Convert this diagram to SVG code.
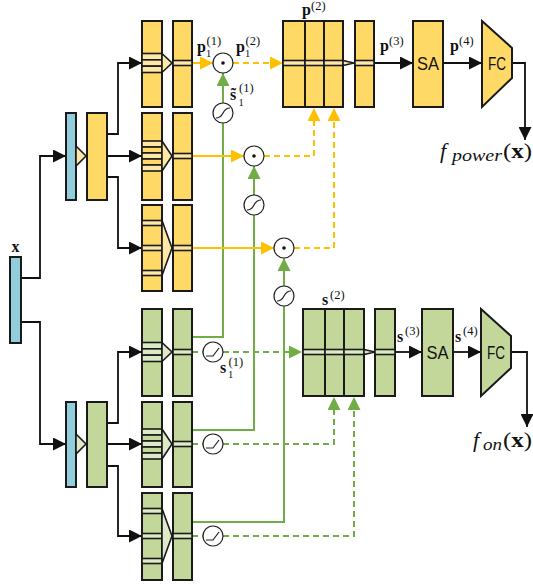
<svg xmlns="http://www.w3.org/2000/svg" width="533" height="584" viewBox="0 0 533 584">
<defs>
<style>
.y{fill:#FFD966;stroke:#1a1a1a;stroke-width:2}
.g{fill:#C4D79B;stroke:#1a1a1a;stroke-width:2}
.b{fill:#92CDDC;stroke:#1a1a1a;stroke-width:2}
.ys{fill:#FDE8A8;stroke:#1a1a1a;stroke-width:1.6}
.gs{fill:#DDEAC8;stroke:#1a1a1a;stroke-width:1.6}
.yk{fill:#FFD966;stroke:#1a1a1a;stroke-width:1.6}
.gk{fill:#C4D79B;stroke:#1a1a1a;stroke-width:1.6}
.k{fill:none;stroke:#111;stroke-width:1.8}
.oy{fill:none;stroke:#FFC000;stroke-width:2}
.oyd{fill:none;stroke:#FFC000;stroke-width:2;stroke-dasharray:6 4}
.gr{fill:none;stroke:#70AD47;stroke-width:2}
.grd{fill:none;stroke:#70AD47;stroke-width:2;stroke-dasharray:6 4}
.op{fill:#fff;stroke:#222;stroke-width:1.2}
.sym{fill:none;stroke:#222;stroke-width:1.2}
.m{font-family:"Liberation Serif",serif;fill:#111}
.mb{font-family:"Liberation Serif",serif;font-weight:bold;fill:#111;font-size:16px}
.sup{font-family:"Liberation Serif",serif;fill:#111;font-size:12.5px}
.sub{font-family:"Liberation Serif",serif;fill:#111;font-size:10.5px}
.sf{font-family:"Liberation Sans",sans-serif;font-size:18px;fill:#111;text-anchor:middle}
</style>
<marker id="ak" viewBox="0 0 10 10" refX="10" refY="5" markerWidth="13" markerHeight="13" markerUnits="userSpaceOnUse" orient="auto"><path d="M0,0 L10,5 L0,10 z" fill="#111"/></marker>
<marker id="ay" viewBox="0 0 10 10" refX="10" refY="5" markerWidth="13" markerHeight="13" markerUnits="userSpaceOnUse" orient="auto"><path d="M0,0 L10,5 L0,10 z" fill="#FFC000"/></marker>
<marker id="ag" viewBox="0 0 10 10" refX="10" refY="5" markerWidth="13" markerHeight="13" markerUnits="userSpaceOnUse" orient="auto"><path d="M0,0 L10,5 L0,10 z" fill="#70AD47"/></marker>
</defs>
<rect width="533" height="584" fill="#fff"/>

<g id="connectors">
<path class="k" d="M21,278 H40 V156 H66" marker-end="url(#ak)"/>
<path class="k" d="M21,322 H40 V444 H66" marker-end="url(#ak)"/>
<path class="k" d="M107,134 H118 V63 H142" marker-end="url(#ak)"/>
<path class="k" d="M107,156 H142" marker-end="url(#ak)"/>
<path class="k" d="M107,177 H118 V248 H142" marker-end="url(#ak)"/>
<path class="k" d="M107,423 H118 V352 H142" marker-end="url(#ak)"/>
<path class="k" d="M107,444 H142" marker-end="url(#ak)"/>
<path class="k" d="M107,466 H118 V536 H142" marker-end="url(#ak)"/>
<path class="k" d="M374,63 H413" marker-end="url(#ak)"/>
<path class="k" d="M443,63 H482" marker-end="url(#ak)"/>
<path class="k" d="M512,63 H525 V140" marker-end="url(#ak)"/>
<path class="k" d="M395,352 H422" marker-end="url(#ak)"/>
<path class="k" d="M453,352 H481" marker-end="url(#ak)"/>
<path class="k" d="M511,352 H527 V427" marker-end="url(#ak)"/>
<path class="gr" d="M192,337 H223 V123"/>
<path class="gr" d="M223,103 V73" marker-end="url(#ag)"/>
<path class="gr" d="M192,430 H254 V215"/>
<path class="gr" d="M254,195 V166" marker-end="url(#ag)"/>
<path class="gr" d="M192,522 H284 V306"/>
<path class="gr" d="M284,286 V258" marker-end="url(#ag)"/>
<path class="oy" d="M192,63 H213" marker-end="url(#ay)"/>
<path class="oy" d="M192,156 H244" marker-end="url(#ay)"/>
<path class="oy" d="M192,248 H274" marker-end="url(#ay)"/>
<path class="oyd" d="M233,63 H283" marker-end="url(#ay)"/>
<path class="oyd" d="M264,156 H314 V108" marker-end="url(#ay)"/>
<path class="oyd" d="M294,248 H334 V108" marker-end="url(#ay)"/>
<path class="grd" d="M192,352 H203"/>
<path class="grd" d="M223,352 H302" marker-end="url(#ag)"/>
<path class="grd" d="M192,444 H203"/>
<path class="grd" d="M223,444 H334 V397" marker-end="url(#ag)"/>
<path class="grd" d="M192,536 H203"/>
<path class="grd" d="M223,536 H354 V397" marker-end="url(#ag)"/>
</g>

<g id="input">
<rect class="b" x="10" y="257" width="11" height="86"/>
<text class="mb" x="15.5" y="252" text-anchor="middle" font-size="18">x</text>
</g>

<g id="power-stem">
<rect class="b" x="66" y="113" width="10" height="87"/>
<polygon class="ys" points="76,146 86,156 76,166"/>
<rect class="y" x="87" y="113" width="20" height="87"/>
</g>

<g id="power-block1">
<rect class="y" x="142" y="21" width="20" height="86"/>
<rect class="ys" x="142" y="53.5" width="20" height="6.33"/>
<rect class="ys" x="142" y="59.83" width="20" height="6.33"/>
<rect class="ys" x="142" y="66.17" width="20" height="6.33"/>
<polygon class="ys" points="162,53.5 172,63 162,72.5"/>
<rect class="y" x="173" y="21" width="19" height="86"/>
<rect class="ys" x="173" y="60.5" width="19" height="5"/>
</g>

<g id="power-block2">
<rect class="y" x="142" y="113" width="20" height="87"/>
<rect class="ys" x="142" y="141" width="20" height="6"/>
<rect class="yk" x="142" y="147" width="20" height="6"/>
<rect class="ys" x="142" y="153" width="20" height="6"/>
<rect class="yk" x="142" y="159" width="20" height="6"/>
<rect class="ys" x="142" y="165" width="20" height="6"/>
<polygon class="ys" points="162,141 172,156 162,171"/>
<rect class="y" x="173" y="113" width="19" height="87"/>
<rect class="ys" x="173" y="153.5" width="19" height="5"/>
</g>

<g id="power-block3">
<rect class="y" x="142" y="205" width="20" height="86"/>
<rect class="ys" x="142" y="220.5" width="20" height="5"/>
<rect class="ys" x="142" y="245.5" width="20" height="5"/>
<rect class="ys" x="142" y="270.5" width="20" height="5"/>
<polygon class="ys" points="162,220.5 172,248 162,275.5"/>
<rect class="y" x="173" y="205" width="19" height="86"/>
<rect class="ys" x="173" y="245.5" width="19" height="5"/>
</g>

<g id="power-ops">
<circle class="op" cx="223" cy="63" r="10"/><circle cx="223" cy="63" r="1.8" fill="#111"/>
<circle class="op" cx="254" cy="156" r="10"/><circle cx="254" cy="156" r="1.8" fill="#111"/>
<circle class="op" cx="284" cy="248" r="10"/><circle cx="284" cy="248" r="1.8" fill="#111"/>
<circle class="op" cx="223" cy="113" r="10"/><path class="sym" d="M216,118 C225,118 221,108 230,108"/>
<circle class="op" cx="254" cy="205" r="10"/><path class="sym" d="M247,210 C256,210 252,200 261,200"/>
<circle class="op" cx="284" cy="296" r="10"/><path class="sym" d="M277,301 C286,301 282,291 291,291"/>
</g>

<g id="power-merge">
<rect class="y" x="283" y="21" width="22" height="86"/>
<rect class="y" x="305" y="21" width="19" height="86"/>
<rect class="y" x="324" y="21" width="19" height="86"/>
<rect class="ys" x="283" y="60.5" width="22" height="5"/>
<rect class="ys" x="305" y="60.5" width="19" height="5"/>
<rect class="ys" x="324" y="60.5" width="19" height="5"/>
<polygon class="ys" points="343,60.5 354,63 343,65.5"/>
<rect class="y" x="355" y="21" width="19" height="86"/>
<rect class="ys" x="355" y="60.5" width="19" height="5"/>
</g>

<g id="power-sa">
<rect class="y" x="413" y="21" width="30" height="86"/>
<text class="sf" x="428" y="69.5" textLength="22" lengthAdjust="spacingAndGlyphs">SA</text>
</g>

<g id="power-fc">
<polygon class="y" points="482,21 512,48 512,78 482,107"/>
<text class="sf" x="497" y="69.5" textLength="18" lengthAdjust="spacingAndGlyphs">FC</text>
</g>

<g id="on-stem">
<rect class="b" x="66" y="402" width="10" height="85"/>
<polygon class="gs" points="76,434 86,444 76,454"/>
<rect class="g" x="87" y="402" width="20" height="85"/>
</g>

<g id="on-block1">
<rect class="g" x="142" y="309" width="20" height="87"/>
<rect class="gs" x="142" y="342.5" width="20" height="6.33"/>
<rect class="gs" x="142" y="348.83" width="20" height="6.33"/>
<rect class="gs" x="142" y="355.17" width="20" height="6.33"/>
<polygon class="gs" points="162,342.5 172,352 162,361.5"/>
<rect class="g" x="173" y="309" width="19" height="87"/>
<rect class="gs" x="173" y="349.5" width="19" height="5"/>
</g>

<g id="on-block2">
<rect class="g" x="142" y="402" width="20" height="85"/>
<rect class="gs" x="142" y="429" width="20" height="6"/>
<rect class="gk" x="142" y="435" width="20" height="6"/>
<rect class="gs" x="142" y="441" width="20" height="6"/>
<rect class="gk" x="142" y="447" width="20" height="6"/>
<rect class="gs" x="142" y="453" width="20" height="6"/>
<polygon class="gs" points="162,429 172,444 162,459"/>
<rect class="g" x="173" y="402" width="19" height="85"/>
<rect class="gs" x="173" y="441.5" width="19" height="5"/>
</g>

<g id="on-block3">
<rect class="g" x="142" y="493" width="20" height="87"/>
<rect class="gs" x="142" y="508.5" width="20" height="5"/>
<rect class="gs" x="142" y="533.5" width="20" height="5"/>
<rect class="gs" x="142" y="558.5" width="20" height="5"/>
<polygon class="gs" points="162,508.5 172,536 162,563.5"/>
<rect class="g" x="173" y="493" width="19" height="87"/>
<rect class="gs" x="173" y="533.5" width="19" height="5"/>
</g>

<g id="on-ops">
<circle class="op" cx="213" cy="352" r="10"/><path class="sym" d="M206,356 H213 L219,348"/>
<circle class="op" cx="213" cy="444" r="10"/><path class="sym" d="M206,448 H213 L219,440"/>
<circle class="op" cx="213" cy="536" r="10"/><path class="sym" d="M206,540 H213 L219,532"/>
</g>

<g id="on-merge">
<rect class="g" x="303" y="309" width="22" height="87"/>
<rect class="g" x="325" y="309" width="19" height="87"/>
<rect class="g" x="344" y="309" width="20" height="87"/>
<rect class="gs" x="303" y="349.5" width="22" height="5"/>
<rect class="gs" x="325" y="349.5" width="19" height="5"/>
<rect class="gs" x="344" y="349.5" width="20" height="5"/>
<polygon class="gs" points="364,349.5 375,352 364,354.5"/>
<rect class="g" x="375" y="309" width="20" height="87"/>
<rect class="gs" x="375" y="349.5" width="20" height="5"/>
</g>

<g id="on-sa">
<rect class="g" x="422" y="309" width="31" height="87"/>
<text class="sf" x="437.5" y="358.5" textLength="22" lengthAdjust="spacingAndGlyphs">SA</text>
</g>

<g id="on-fc">
<polygon class="g" points="481,309 511,336 511,368 481,396"/>
<text class="sf" x="496" y="358.5" textLength="18" lengthAdjust="spacingAndGlyphs">FC</text>
</g>

<g id="labels">
<text class="mb" x="197" y="52">p</text><text class="sub" x="206" y="57">1</text><text class="sup" x="206.5" y="45">(1)</text>
<text class="mb" x="236" y="52">p</text><text class="sub" x="245" y="57">1</text><text class="sup" x="245.5" y="45">(2)</text>
<text class="mb" x="302" y="15">p</text><text class="sup" x="311" y="10">(2)</text>
<text class="mb" x="380" y="51">p</text><text class="sup" x="389" y="45">(3)</text>
<text class="mb" x="450" y="51">p</text><text class="sup" x="459" y="45">(4)</text>
<text class="mb" x="230" y="100">s̃</text><text class="sub" x="238.5" y="106">1</text><text class="sup" x="239" y="92">(1)</text>
<text class="mb" x="220" y="373">s</text><text class="sub" x="228" y="378">1</text><text class="sup" x="228.5" y="366">(1)</text>
<text class="mb" x="322" y="305">s</text><text class="sup" x="330" y="299">(2)</text>
<text class="mb" x="397" y="342">s</text><text class="sup" x="405" y="335">(3)</text>
<text class="mb" x="455" y="342">s</text><text class="sup" x="463" y="335">(4)</text>
<text class="m" x="440" y="158" font-size="22" font-style="italic">f</text>
<text class="m" x="452" y="161" font-size="16" font-style="italic" textLength="50" lengthAdjust="spacingAndGlyphs">power</text>
<text class="m" x="503" y="158" font-size="21" textLength="29" lengthAdjust="spacingAndGlyphs">(<tspan font-weight="bold">x</tspan>)</text>
<text class="m" x="473" y="447" font-size="22" font-style="italic">f</text>
<text class="m" x="483" y="450" font-size="16" font-style="italic" textLength="19" lengthAdjust="spacingAndGlyphs">on</text>
<text class="m" x="503" y="447" font-size="21" textLength="29" lengthAdjust="spacingAndGlyphs">(<tspan font-weight="bold">x</tspan>)</text>
</g>
</svg>
